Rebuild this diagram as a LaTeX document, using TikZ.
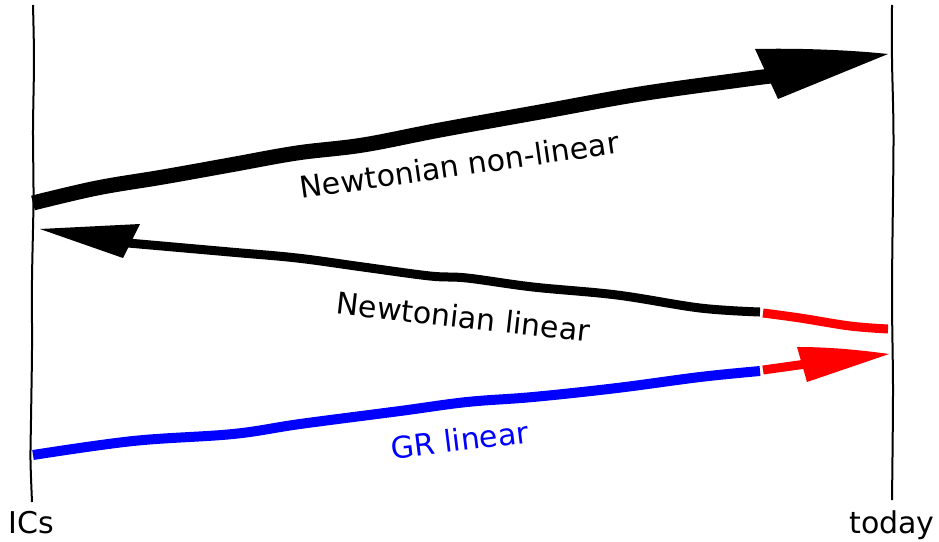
\documentclass[tikz,border=0pt]{standalone}
\usepackage{fontspec}
\setmainfont{DejaVu Sans}
\begin{document}
\begin{tikzpicture}[x=1pt,y=-1pt,
  axisline/.style={line width=2pt,black},
  thickstroke/.style={line width=15pt,black,line cap=butt},
  thinstroke/.style={line width=9pt,line cap=butt},
  headfill/.style={draw=none},
  lab/.style={font=\fontsize{30}{36}\selectfont,anchor=base,inner sep=0pt}]
\useasboundingbox (0,0) rectangle (939,541);

% time axes
\coordinate (L0) at (33,5);
\coordinate (L1) at (32,502);
\coordinate (R0) at (892,5);
\coordinate (R1) at (892,500);
\draw[axisline] plot[smooth] coordinates {(L0) (34,60) (33,130) (33.5,200) (32,280) (32,350) (31,420) (30.5,460) (L1)};
\draw[axisline] plot[smooth] coordinates {(R0) (892,60) (893.5,140) (892,290) (893,390) (R1)};

\node[lab] (ics) at (31,533) {ICs};
\node[lab] (today) at (892,533) {today};

% Newtonian non-linear (forward, black)
\coordinate (A0) at (33,203);
\coordinate (A1) at (771,76);
\draw[thickstroke] plot[smooth,tension=0.6] coordinates {(A0) (97,188) (163,177) (230,165) (297,153) (363,145) (440,130) (540,112) (640,94) (740,80) (A1)};
\coordinate (AT) at (888,54);
\fill[black,headfill] (755,49) .. controls (800,48) and (850,50) .. (AT) -- (778,99) -- cycle;

% Newtonian linear (backward, black then red)
\coordinate (B0) at (760,312);
\coordinate (B1) at (128,243);
\draw[thinstroke,black] plot[smooth,tension=0.6] coordinates {(B0) (700,308) (617,295) (533,287) (467,278) (430,276) (363,267) (297,258) (230,252) (B1)};
\coordinate (BT) at (40,229);
\fill[black,headfill] (BT) -- (140,224) -- (123,258) -- cycle;
\coordinate (C0) at (763,313);
\coordinate (C1) at (888,329);
\draw[thinstroke,red] plot[smooth,tension=0.6] coordinates {(C0) (800,318) (850,326) (C1)};

% GR linear (blue then red)
\coordinate (D0) at (33,455);
\coordinate (D1) at (760,371);
\draw[line width=10pt,blue,line cap=butt] plot[smooth,tension=0.6] coordinates {(D0) (133,441) (233,434) (300,424) (400,411) (467,402) (533,397) (617,388) (700,377) (D1)};
\coordinate (E0) at (763,370);
\coordinate (E1) at (806,364);
\draw[thinstroke,red] (E0) -- (E1);
\coordinate (ET) at (889,354);
\fill[red,headfill] (797,347) .. controls (830,347) and (860,350) .. (ET) -- (807,382) -- cycle;

% labels
\node[lab,rotate=8.2] (nnl) at (461,176) {Newtonian non-linear};
\node[lab,rotate=-6.4] (nl) at (462,328) {Newtonian linear};
\node[lab,rotate=7,text=blue] (gr) at (461,451) {GR linear};
\end{tikzpicture}
\end{document}
